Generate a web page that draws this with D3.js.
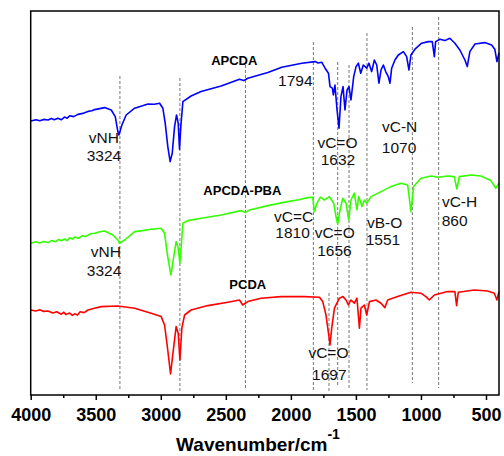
<!DOCTYPE html>
<html>
<head>
<meta charset="utf-8">
<script src="https://cdn.jsdelivr.net/npm/d3@7"></script>
<style>
  body { margin: 0; background: #fff; }
  svg { display: block; font-family: "Liberation Sans", Arial, sans-serif; }
  .note { font-size: 15.5px; fill: #111; }
  .name { font-size: 13px; font-weight: bold; fill: #000; }
</style>
</head>
<body>
<div id="chart"></div>
<script>
// FTIR spectra, wavenumber (cm-1) vs offset transmittance (arbitrary units)
var apcda = [
  [4000,137],[3960,137.6],[3930,137.1],[3900,137.8],[3867,137.5],[3840,138.3],[3820,137.6],
  [3790,138.4],[3765,137.6],[3740,139],[3720,138.4],[3700,139.6],[3670,139.2],[3637,140.3],
  [3600,140.8],[3560,141.8],[3530,142.1],[3508,142.7],[3470,143.2],[3432,143.7],[3381,142.5],
  [3350,139.2],[3330,131.7],[3322,130],[3299,135],[3266,140],[3201,143.4],[3140,144.6],
  [3099,145.5],[3050,145.4],[3009,145.9],[2984,143.4],[2966,135.9],[2946,124.2],[2928,116.7],
  [2912,120.9],[2894,134.2],[2879,140],[2866,135.9],[2856,122.9],[2846,134.2],[2830,146.7],
  [2767,149.5],[2690,151.7],[2536,154.5],[2395,157.9],[2362,157.2],[2331,158.4],[2177,161.2],
  [2070,163.9],[1916,165.9],[1814,166.7],[1790,166],[1763,166.4],[1737,163.4],[1711,160.9],
  [1699,154.2],[1681,153.4],[1673,150],[1661,155],[1645,142.5],[1630,133.4],[1615,149.2],
  [1599,154.2],[1584,142.5],[1568,152.5],[1553,154.2],[1538,147.5],[1517,159.2],[1499,164.2],
  [1481,165.9],[1463,160.9],[1443,165],[1417,163.4],[1400,165.9],[1379,161.7],[1358,167.5],
  [1340,165],[1323,155.9],[1307,162.5],[1289,165],[1271,161.7],[1251,159.2],[1238,155.9],
  [1225,163.4],[1200,167.5],[1174,170],[1135,171.7],[1110,169.2],[1092,162.5],[1077,170],
  [1046,172.9],[995,175.9],[943,176.7],[913,176.7],[897,169.2],[887,176.7],[854,177.9],
  [816,177.2],[778,178.4],[739,175.9],[701,172.5],[662,167.5],[644,164.2],[624,171.7],
  [585,175.5],[509,176.2],[457,175],[432,172.9],[416,166.7],[400,171]
];
var apcdaPba = [
  [4000,75.9],[3960,76.6],[3930,76],[3900,76.8],[3867,76.2],[3840,77.2],[3810,76.6],
  [3785,77.8],[3765,77.1],[3740,78],[3720,77.2],[3700,78.6],[3680,78],[3660,79],[3637,78.4],
  [3600,79.6],[3580,79.2],[3540,80.6],[3508,80.9],[3470,81.6],[3432,82],[3368,80],[3330,77.5],
  [3318,75.9],[3278,77.5],[3201,81.7],[3140,82.2],[3074,82.9],[2997,83.4],[2971,80.9],
  [2949,70],[2922,60],[2907,66.5],[2882,76.7],[2866,73.5],[2853,65.9],[2842,75],[2830,85.9],
  [2792,87.2],[2690,88.4],[2536,90],[2383,92.2],[2352,91.2],[2318,92.5],[2177,94.7],
  [2024,96.7],[1940,97.6],[1870,98.7],[1832,98.9],[1819,91.7],[1799,95.9],[1773,98.9],
  [1742,97.5],[1704,99.2],[1671,95.9],[1653,89.2],[1640,85.5],[1622,92.5],[1601,98.4],
  [1576,95.9],[1555,87.5],[1538,97.5],[1512,100.9],[1492,92.5],[1479,99.2],[1453,94.2],
  [1435,97.5],[1417,95.9],[1384,99.2],[1307,101.7],[1231,104.2],[1154,105.9],[1102,105],
  [1077,91.7],[1056,104.2],[1000,108.4],[923,109.5],[872,108.9],[795,109.5],[744,109.2],
  [724,103],[705,109.2],[616,110],[539,109.5],[463,107.2],[424,103.4],[400,105.9]
];
var pcda = [
  [4000,42.5],[3960,42],[3930,42.6],[3900,41.8],[3867,42],[3830,41],[3800,41.6],[3765,40.4],
  [3745,41.4],[3730,40.2],[3700,41],[3680,39.8],[3662,40.6],[3640,40],[3620,41.6],[3590,41.2],
  [3560,42.5],[3510,43.4],[3458,44.2],[3330,44.5],[3201,43.4],[3074,40.9],[2997,39.2],
  [2971,35],[2951,25],[2925,10.5],[2905,21.7],[2882,34.2],[2866,30.9],[2853,17.5],[2838,33.4],
  [2817,40],[2767,42.5],[2638,44.7],[2485,46.4],[2395,47.5],[2370,45],[2331,46.7],[2229,48.4],
  [2075,49.2],[1896,49.2],[1780,48.9],[1755,46.7],[1730,40],[1709,30],[1699,25],[1686,33.4],
  [1665,43.4],[1627,48.4],[1599,49.2],[1576,47.5],[1558,45],[1538,47.5],[1512,45.9],
  [1492,48.4],[1473,33.4],[1461,43.4],[1435,45],[1417,40],[1396,46.7],[1346,47.5],[1307,45.9],
  [1277,43.7],[1256,47.5],[1179,49.2],[1077,51.4],[1000,50.9],[962,49.2],[936,47.5],[897,50],
  [795,51.7],[739,51.7],[726,44.7],[713,51.4],[590,52.5],[488,52],[436,50.9],[416,47.5],
  [400,51.7]
];
var seriesColors = ["#0000ff", "#33ff00", "#ff0000"];

// dashed guide lines: wavenumber, top and bottom (same units as spectra)
var guideWn = [3314, 2853, 2349, 1827, 1707, 1640, 1553, 1415, 1066, 864];
var guideTop = [159.5, 158.5, 165, 176.5, 51, 166.5, 165, 181, 184, 189];
var guideBottom = [2, 1, 2.5, 2.5, 1, 4, 2.5, 2.5, 6, 3.5];

// annotations: text, wavenumber, baseline value, bold
var notes = [
  ["APCDA", 2435, 165.25, true],
  ["1794", 1966, 154.5, false],
  ["vNH", 3437, 126.25, false],
  ["3324", 3437, 117.25, false],
  ["vC=O", 1642, 123.5, false],
  ["1632", 1638, 115, false],
  ["vC-N", 1164, 131.65, false],
  ["1070", 1168, 121.15, false],
  ["APCDA-PBA", 2373, 100, true],
  ["vC=C", 1979, 86.65, false],
  ["1810", 1987, 78.65, false],
  ["vC=O", 1663, 78.35, false],
  ["1656", 1665, 69.5, false],
  ["vB-O", 1279, 83.5, false],
  ["1551", 1292, 75, false],
  ["vC-H", 703, 94.15, false],
  ["860", 741, 84.5, false],
  ["vNH", 3423, 69, false],
  ["3324", 3436, 59.5, false],
  ["PCDA", 2331, 53.25, true],
  ["vC=O", 1711, 18.5, false],
  ["1697", 1704, 7.75, false]
];
var majorTicks = [4000, 3500, 3000, 2500, 2000, 1500, 1000, 500];
var minorTicks = [3750, 3250, 2750, 2250, 1750, 1250, 750];

var svgWidth = 504;
var svgHeight = 456;
var margin = { top: 11, right: 5, bottom: 61, left: 30.7 };
var width = svgWidth - margin.left - margin.right;
var height = svgHeight - margin.top - margin.bottom;

var svg = d3.select("#chart")
    .append("svg")
    .attr("width", svgWidth)
    .attr("height", svgHeight);

var chartGroup = svg.append("g")
    .attr("transform", `translate(${margin.left}, ${margin.top})`);

var xScale = d3.scaleLinear().domain([4000, 400]).range([0, width]);
var yScale = d3.scaleLinear().domain([0, 192]).range([height, 0]);

// guide lines
chartGroup.selectAll(".guide")
    .data(guideWn)
    .enter()
    .append("line")
    .attr("class", "guide")
    .attr("x1", d => xScale(d))
    .attr("x2", d => xScale(d))
    .attr("y1", (d, i) => yScale(guideTop[i]))
    .attr("y2", (d, i) => yScale(guideBottom[i]))
    .attr("stroke", "#777")
    .attr("stroke-width", 1)
    .attr("stroke-dasharray", "3,2");

// spectra
var line = d3.line()
    .x(d => xScale(d[0]))
    .y(d => yScale(d[1]));

[apcda, apcdaPba, pcda].forEach(function (s, i) {
    chartGroup.append("path")
        .datum(s)
        .attr("d", line)
        .attr("fill", "none")
        .attr("stroke", seriesColors[i])
        .attr("stroke-width", 1.6)
        .attr("stroke-linejoin", "round");
});

// annotations
chartGroup.selectAll(".lbl")
    .data(notes)
    .enter()
    .append("text")
    .attr("class", d => d[3] ? "name" : "note")
    .attr("x", d => xScale(d[1]))
    .attr("y", d => yScale(d[2]))
    .attr("text-anchor", "middle")
    .text(d => d[0]);

// frame
chartGroup.append("rect")
    .attr("width", width)
    .attr("height", height)
    .attr("fill", "none")
    .attr("stroke", "#000")
    .attr("stroke-width", 1.5);

// bottom axis
var bottomAxis = d3.axisBottom(xScale)
    .tickValues(majorTicks)
    .tickSize(5)
    .tickPadding(8)
    .tickFormat(d3.format("d"));

var axisG = chartGroup.append("g")
    .attr("transform", `translate(0, ${height})`)
    .call(bottomAxis);
axisG.select(".domain").remove();
axisG.selectAll("line").attr("stroke-width", 1.5);
axisG.selectAll("text")
    .attr("font-family", "Liberation Sans, Arial, sans-serif")
    .attr("font-size", "18px")
    .attr("font-weight", "bold")
    .attr("fill", "#000");

var minorG = chartGroup.append("g")
    .attr("transform", `translate(0, ${height})`)
    .call(d3.axisBottom(xScale).tickValues(minorTicks).tickSize(3).tickFormat(""));
minorG.select(".domain").remove();
minorG.selectAll("line").attr("stroke-width", 1.5);

// axis title
var title = svg.append("text")
    .attr("x", 258)
    .attr("y", 451)
    .attr("text-anchor", "middle")
    .attr("font-size", "19px")
    .attr("font-weight", "bold")
    .text("Wavenumber/cm");
title.append("tspan")
    .attr("dy", -12)
    .attr("font-size", "14px")
    .text("-1");
</script>
</body>
</html>
